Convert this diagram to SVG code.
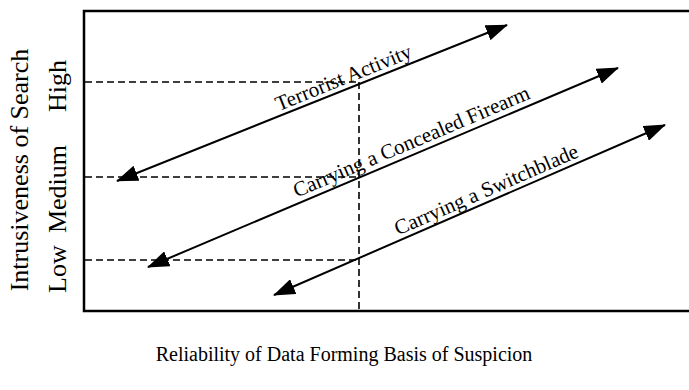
<svg xmlns="http://www.w3.org/2000/svg" width="689" height="390" viewBox="0 0 689 390">
<style>
text{font-family:"Liberation Serif","Times New Roman",serif;fill:#000}
.axis{font-size:26px}
.xl{font-size:20px}
.lbl{font-size:21px}
.dash{stroke:#000;stroke-width:1.6;stroke-dasharray:7,4;fill:none}
.arr{stroke:#000;stroke-width:2;fill:none;marker-start:url(#ah);marker-end:url(#ah)}
.frame{stroke:#000;stroke-width:2.5;fill:none}
</style>
<defs>
<marker id="ah" markerWidth="22" markerHeight="16" viewBox="0 0 22 16" refX="21" refY="8" orient="auto-start-reverse" markerUnits="userSpaceOnUse">
<path d="M0,0 L22,8 L0,16 Z" fill="#000"/>
</marker>
</defs>
<rect width="689" height="390" fill="#fff"/>
<g id="frame">
<path class="frame" d="M689,11 H84 V311 H689"/>
</g>
<g id="guides">
<path class="dash" d="M85,82 H359 M85,177 H359 M85,260 H359 M359,82 V311"/>
</g>
<g id="connectors">
<line class="arr" x1="117" y1="181" x2="507" y2="25"/>
<line class="arr" x1="148" y1="267" x2="618" y2="68"/>
<line class="arr" x1="274" y1="295" x2="665" y2="125"/>
</g>
<g id="label-terrorist">
<text class="lbl" text-anchor="middle" transform="translate(346,84) rotate(-22)">Terrorist Activity</text>
</g>
<g id="label-firearm">
<text class="lbl" text-anchor="middle" transform="translate(414,148) rotate(-23)">Carrying a Concealed Firearm</text>
</g>
<g id="label-switchblade">
<text class="lbl" text-anchor="middle" transform="translate(489,196) rotate(-23.5)">Carrying a Switchblade</text>
</g>
<g id="y-axis">
<text class="axis" text-anchor="middle" transform="translate(28,170) rotate(-90)">Intrusiveness of Search</text>
<text class="axis" text-anchor="start" transform="translate(66,293) rotate(-90)">Low</text>
<text class="axis" text-anchor="middle" transform="translate(66,189) rotate(-90)">Medium</text>
<text class="axis" text-anchor="end" transform="translate(66,60) rotate(-90)">High</text>
</g>
<g id="x-axis">
<text class="xl" text-anchor="middle" x="344" y="361">Reliability of Data Forming Basis of Suspicion</text>
</g>
</svg>
